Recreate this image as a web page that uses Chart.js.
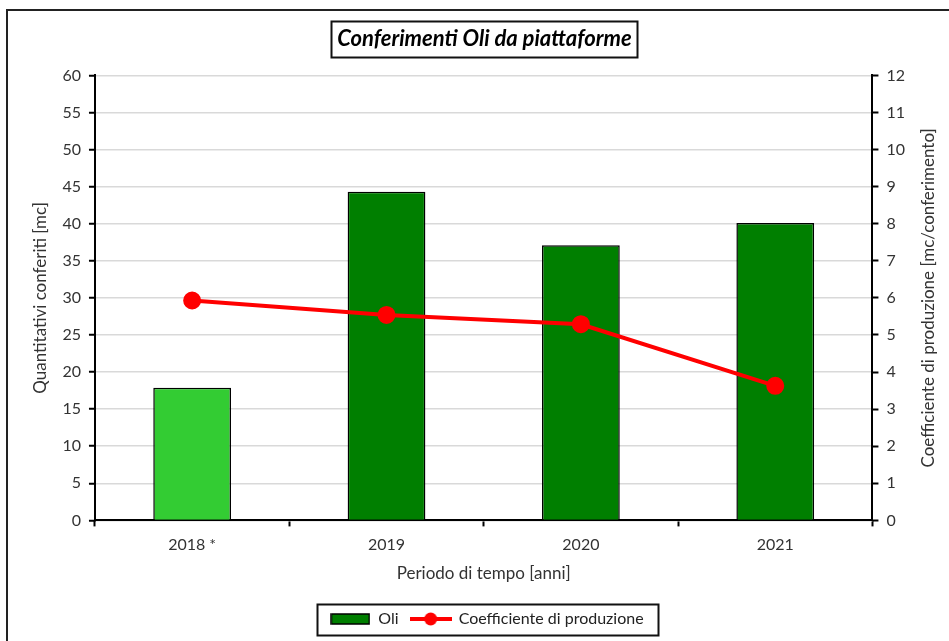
<!DOCTYPE html>
<html>
<head>
<meta charset="utf-8">
<script src="https://cdn.jsdelivr.net/npm/chart.js@4.4.0/dist/chart.umd.min.js"></script>
<style>
  html, body { margin: 0; padding: 0; background: #fff; }
  #wrap { width: 949px; height: 641px; position: relative; }
</style>
</head>
<body>
<div id="wrap"><canvas id="oliChart"></canvas></div>
<script>
// data
const categories = ['2018 *', '2019', '2020', '2021'];
const oliValues = [17.9, 44.3, 37.1, 40.1];
const coeffValues = [5.93, 5.54, 5.29, 3.63];
const leftTicks = { min: 0, max: 60, step: 5 };
const rightTicks = { min: 0, max: 12, step: 1 };

const FONT = 'Lato, "Open Sans", sans-serif';
const TITLE_TEXT = 'Conferimenti Oli da piattaforme';
const RIGHT_TITLE = 'Coefficiente di produzione [mc/conferimento]';
const TITLE_PAD = { top: 14, bottom: 23 };
const TITLE_SIZE = 22;
const TEXT_COLOR = '#333';
// horizontal centres of the title box and of the legend
const TITLE_CX = 484.5;
const LEGEND_CX = 487;

const barColors = ['#33cc33', '#007f00', '#007f00', '#007f00'];

// legend swatches
function barSwatch() {
    const c = document.createElement('canvas');
    c.width = 40; c.height = 12;
    const g = c.getContext('2d');
    g.fillStyle = '#007f00';
    g.fillRect(1, 1, 38, 10);
    g.strokeStyle = '#000';
    g.lineWidth = 1.5;
    g.strokeRect(1, 1, 38, 10);
    return c;
}
function lineSwatch() {
    const c = document.createElement('canvas');
    c.width = 42; c.height = 16;
    const g = c.getContext('2d');
    g.strokeStyle = '#ff0000';
    g.lineWidth = 4;
    g.beginPath(); g.moveTo(0, 8); g.lineTo(42, 8); g.stroke();
    g.fillStyle = '#ff0000';
    g.beginPath(); g.arc(21, 8, 6.5, 0, Math.PI * 2); g.fill();
    return c;
}

const framePlugin = {
    id: 'frame',
    afterLayout(chart) {
        // title and legend sit a bit right of the layout centre
        const t = chart.titleBlock;
        const dt = TITLE_CX - (t.left + t.right) / 2;
        t.left += dt; t.right += dt;
        const lg = chart.legend;
        const dl = LEGEND_CX - (lg.left + lg.right) / 2;
        lg.left += dl; lg.right += dl;
    },
    beforeDraw(chart) {
        const ctx = chart.ctx;
        ctx.save();
        ctx.fillStyle = '#fff';
        ctx.fillRect(0, 0, chart.width, chart.height);
        ctx.strokeStyle = '#222';
        ctx.lineWidth = 2;
        ctx.beginPath();
        ctx.moveTo(chart.width, 10);
        ctx.lineTo(7, 10);
        ctx.lineTo(7, chart.height);
        ctx.stroke();
        ctx.restore();
    },
    afterDraw(chart) {
        const ctx = chart.ctx;
        ctx.save();
        // right axis title, read bottom to top like the left one
        const area = chart.chartArea;
        ctx.translate(area.right + 56, (area.top + area.bottom) / 2);
        ctx.rotate(-Math.PI / 2);
        ctx.font = '17px ' + FONT;
        ctx.fillStyle = TEXT_COLOR;
        ctx.textAlign = 'center';
        ctx.textBaseline = 'middle';
        ctx.fillText(RIGHT_TITLE, 0, 0);
        ctx.restore();

        ctx.save();
        ctx.strokeStyle = '#111';
        ctx.lineWidth = 2;
        // box round the title
        const t = chart.titleBlock;
        ctx.font = 'italic bold ' + TITLE_SIZE + 'px ' + FONT;
        const tw = ctx.measureText(TITLE_TEXT).width;
        const cx = (t.left + t.right) / 2;
        const cy = t.top + TITLE_PAD.top + TITLE_SIZE * 1.2 / 2;
        ctx.strokeRect(Math.round(cx - tw / 2 - 6) + 0.5, Math.round(cy - 18) + 0.5, Math.round(tw + 12), 36);
        // box round the legend
        const boxes = chart.legend.legendHitBoxes;
        if (boxes && boxes.length) {
            const l = Math.min(...boxes.map(b => b.left));
            const r = Math.max(...boxes.map(b => b.left + b.width));
            const top = Math.min(...boxes.map(b => b.top));
            const h = boxes[0].height;
            const my = top + h / 2;
            ctx.strokeRect(Math.round(l - 13) + 0.5, Math.round(my - 15) + 0.5, Math.round(r - l + 28), 31);
        }
        ctx.restore();
    }
};

const tickFont = { family: FONT, size: 16 };
const axisTitleFont = { family: FONT, size: 17 };

const ctx = document.getElementById('oliChart').getContext('2d');
new Chart(ctx, {
    data: {
        labels: categories,
        datasets: [{
            type: 'bar',
            label: 'Oli',
            data: oliValues,
            backgroundColor: barColors,
            borderColor: '#000',
            borderWidth: 1.5,
            barPercentage: 0.4,
            categoryPercentage: 1.0,
            yAxisID: 'y',
            order: 1
        }, {
            type: 'line',
            label: 'Coefficiente di produzione',
            data: coeffValues,
            borderColor: '#ff0000',
            backgroundColor: '#ff0000',
            borderWidth: 4,
            pointRadius: 7,
            pointHoverRadius: 7,
            pointBackgroundColor: '#ff0000',
            pointBorderColor: '#ff0000',
            yAxisID: 'y1',
            order: 0
        }]
    },
    options: {
        responsive: true,
        maintainAspectRatio: false,
        animation: false,
        layout: {
            padding: { left: 26, right: 36, top: 12, bottom: 4 }
        },
        plugins: {
            title: {
                display: true,
                text: TITLE_TEXT,
                color: '#000',
                font: { family: FONT, size: TITLE_SIZE, style: 'italic', weight: 'bold' },
                padding: TITLE_PAD
            },
            legend: {
                position: 'bottom',
                labels: {
                    color: '#222',
                    font: { family: FONT, size: 16 },
                    usePointStyle: true,
                    pointStyleWidth: 40,
                    padding: 12,
                    generateLabels() {
                        return [
                            { text: 'Oli', pointStyle: barSwatch(), datasetIndex: 0, fontColor: '#222', lineWidth: 0 },
                            { text: 'Coefficiente di produzione', pointStyle: lineSwatch(), datasetIndex: 1, fontColor: '#222', lineWidth: 0 }
                        ];
                    }
                }
            },
            tooltip: { enabled: false }
        },
        scales: {
            x: {
                offset: true,
                grid: {
                    offset: true,
                    drawOnChartArea: false,
                    color: '#000',
                    tickColor: '#000',
                    tickLength: 6,
                    tickWidth: 2
                },
                border: { color: '#000', width: 2 },
                ticks: { color: TEXT_COLOR, font: tickFont, padding: 9 },
                title: {
                    display: true,
                    text: 'Periodo di tempo [anni]',
                    color: TEXT_COLOR,
                    font: axisTitleFont,
                    padding: { top: 0, bottom: 15 }
                }
            },
            y: {
                position: 'left',
                min: leftTicks.min,
                max: leftTicks.max,
                ticks: { stepSize: leftTicks.step, color: TEXT_COLOR, font: tickFont, padding: 8 },
                grid: { color: '#d9d9d9', lineWidth: 1.5, tickColor: '#000', tickLength: 6, tickWidth: 2 },
                border: { color: '#000', width: 2 },
                title: {
                    display: true,
                    text: 'Quantitativi conferiti [mc]',
                    color: TEXT_COLOR,
                    font: axisTitleFont,
                    padding: { bottom: 4 }
                }
            },
            y1: {
                position: 'right',
                min: rightTicks.min,
                max: rightTicks.max,
                ticks: { stepSize: rightTicks.step, color: TEXT_COLOR, font: tickFont, padding: 8 },
                grid: { drawOnChartArea: false, tickColor: '#000', tickLength: 6, tickWidth: 2 },
                border: { color: '#000', width: 2 }
            }
        }
    },
    plugins: [framePlugin]
});
</script>
</body>
</html>
